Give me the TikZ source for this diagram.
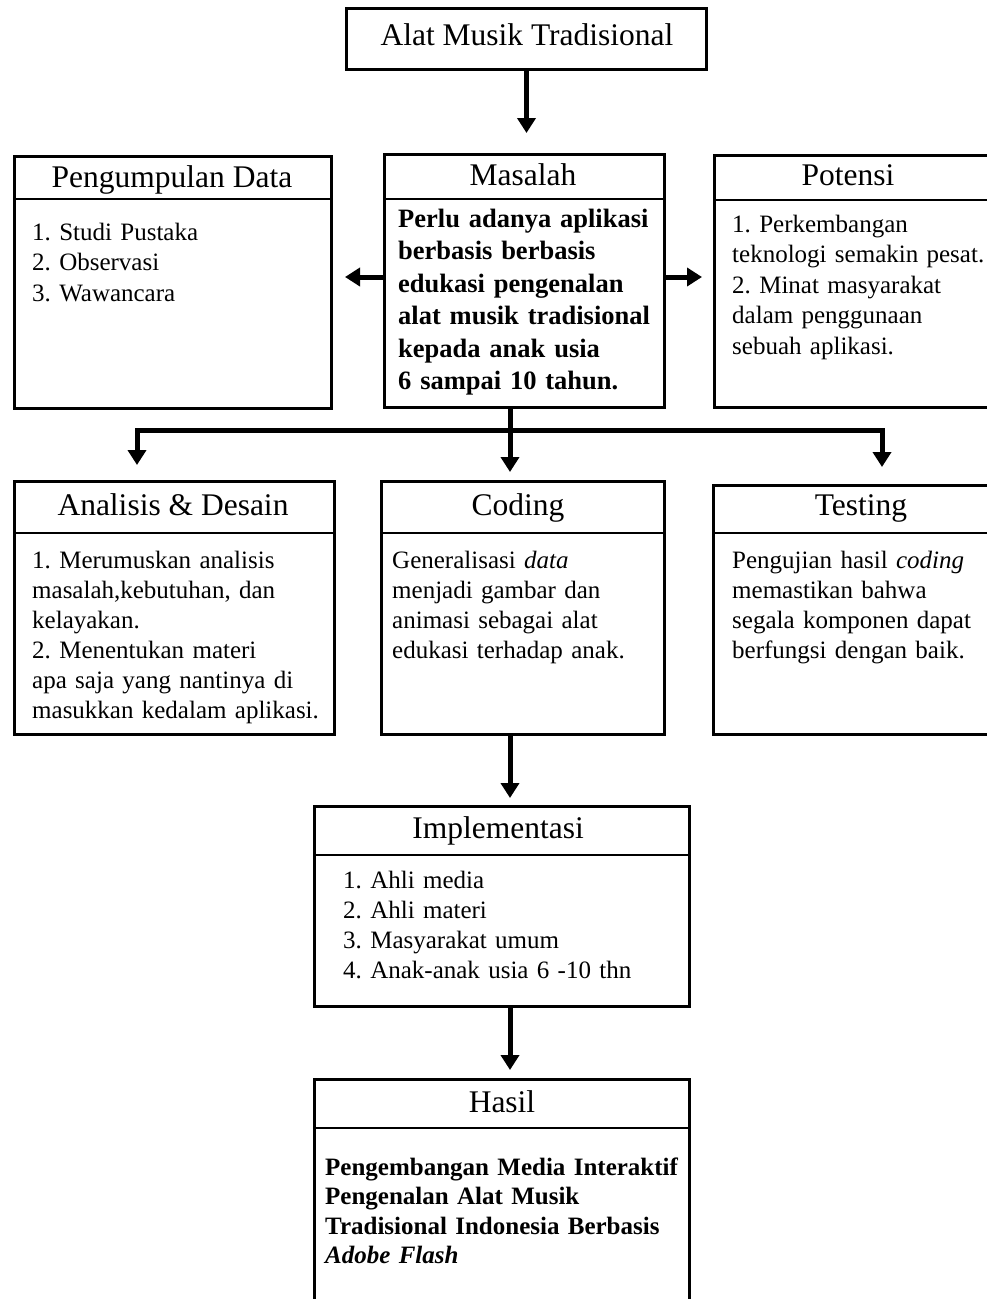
\documentclass[tikz,border=0pt]{standalone}
\usepackage{fontspec}
\setmainfont{Liberation Serif}
\usetikzlibrary{arrows.meta}
\frenchspacing
\begin{document}
\begin{tikzpicture}[x=1pt,y=-1pt,
  box/.style={draw=black, line width=3pt, rectangle, inner sep=0pt, anchor=north west},
  sepline/.style={line width=2.6pt},
  head/.style={font=\fontsize{31.5}{36}\selectfont, anchor=base, inner sep=0pt},
  body/.style={font=\fontsize{25}{30.5}\selectfont\frenchspacing, anchor=base west, inner sep=0pt, text width=420pt, align=left},
  bbody/.style={font=\fontsize{26.5}{32.5}\selectfont\bfseries\frenchspacing, anchor=base west, inner sep=0pt, text width=420pt, align=left},
  thick line/.style={line width=5pt},
  arr/.style={line width=5pt, -{Triangle[width=18pt,length=15pt]}},
]
\useasboundingbox (0,0) rectangle (987,1299);
\clip (0,0) rectangle (987,1299);
\fill[white] (0,0) rectangle (987,1299);

% boxes
\node[box, minimum width=360pt, minimum height=61pt] (title) at (345,7) {};
\node[box, minimum width=317pt, minimum height=252pt] (pd) at (13,155) {};
\node[box, minimum width=280pt, minimum height=253pt] (mas) at (383,153) {};
\node[box, minimum width=282pt, minimum height=252pt] (pot) at (713,154) {};
\node[box, minimum width=320pt, minimum height=253pt] (ad) at (13,480) {};
\node[box, minimum width=283pt, minimum height=253pt] (cod) at (380,480) {};
\node[box, minimum width=300pt, minimum height=249pt] (tst) at (712,484) {};
\node[box, minimum width=375pt, minimum height=200pt] (impl) at (313,805) {};
\node[box, minimum width=375pt, minimum height=262pt] (hasil) at (313,1078) {};

% header separators
\draw[sepline] ([yshift=-44pt]pd.north west) -- ([yshift=-44pt]pd.north east);
\draw[sepline] ([yshift=-46pt]mas.north west) -- ([yshift=-46pt]mas.north east);
\draw[sepline] ([yshift=-46pt]pot.north west) -- ([yshift=-46pt]pot.north east);
\draw[sepline] ([yshift=-53pt]ad.north west) -- ([yshift=-53pt]ad.north east);
\draw[sepline] ([yshift=-53pt]cod.north west) -- ([yshift=-53pt]cod.north east);
\draw[sepline] ([yshift=-49pt]tst.north west) -- ([yshift=-49pt]tst.north east);
\draw[sepline] ([yshift=-50pt]impl.north west) -- ([yshift=-50pt]impl.north east);
\draw[sepline] ([yshift=-50pt]hasil.north west) -- ([yshift=-50pt]hasil.north east);

% headers
\node[head] (tTitle) at (527,45) {Alat Musik Tradisional};
\node[head] (tPd) at (172,187) {Pengumpulan Data};
\node[head] (tMas) at (523,185) {Masalah};
\node[head] (tPot) at (848,185) {Potensi};
\node[head] (tAd) at (173,515) {Analisis \& Desain};
\node[head] (tCod) at (518,515) {Coding};
\node[head] (tTst) at (861,515) {Testing};
\node[head] (tImpl) at (498,838) {Implementasi};
\node[head] (tHasil) at (502,1112) {Hasil};

% bodies
\node[body] (bPd) at (32,240) {1. Studi Pustaka\\2. Observasi\\3. Wawancara};
\node[bbody] (bMas) at (398,227) {Perlu adanya aplikasi\\berbasis berbasis\\edukasi pengenalan\\alat musik tradisional\\kepada anak usia\\6 sampai 10 tahun.};
\node[body] (bPot) at (732,232) {1. Perkembangan\\teknologi semakin pesat.\\2. Minat masyarakat\\dalam penggunaan\\sebuah aplikasi.};
\node[body, font=\fontsize{25}{30}\selectfont\frenchspacing] (bAd) at (32,568) {1. Merumuskan analisis\\masalah,kebutuhan, dan\\kelayakan.\\2. Menentukan materi\\apa saja yang nantinya di\\masukkan kedalam aplikasi.};
\node[body, font=\fontsize{25}{30}\selectfont\frenchspacing] (bCod) at (392,568) {Generalisasi \textit{data}\\menjadi gambar dan\\animasi sebagai alat\\edukasi terhadap anak.};
\node[body, font=\fontsize{25}{30}\selectfont\frenchspacing] (bTst) at (732,568) {Pengujian hasil \textit{coding}\\memastikan bahwa\\segala komponen dapat\\berfungsi dengan baik.};
\node[body, font=\fontsize{25}{30}\selectfont\frenchspacing] (bImpl) at (343,888) {1. Ahli media\\2. Ahli materi\\3. Masyarakat umum\\4. Anak-anak usia 6 -10 thn};
\node[bbody, font=\fontsize{25}{29.5}\selectfont\bfseries\frenchspacing] (bHasil) at (325,1175) {Pengembangan Media Interaktif\\Pengenalan Alat Musik\\Tradisional Indonesia Berbasis\\\textit{Adobe Flash}};

% connectors
\coordinate (mL) at ([yshift=4pt]mas.west);
\coordinate (mR) at ([yshift=4pt]mas.east);
\coordinate (bj) at (510,430);
\coordinate (bl) at (137,430);
\coordinate (br) at (882,430);

\draw[arr, shorten >=20pt] (title.south) -- (title.south |- mas.north);
\draw[arr, shorten >=12pt] (mL) -- (mL -| pd.east);
\draw[arr, shorten >=11pt] (mR) -- (mR -| pot.west);
\draw[thick line] (bj |- mas.south) -- (bj);
\draw[arr, shorten >=15pt] (bj) -| (bl |- ad.north);
\draw[arr, shorten >=17pt] (bj) -| (br |- tst.north);
\draw[arr, shorten >=8pt] (bj) -- (bj |- cod.north);
\draw[arr, shorten >=7pt] (cod.south -| bj) -- (impl.north -| bj);
\draw[arr, shorten >=8pt] (impl.south -| bj) -- (hasil.north -| bj);
\end{tikzpicture}
\end{document}
